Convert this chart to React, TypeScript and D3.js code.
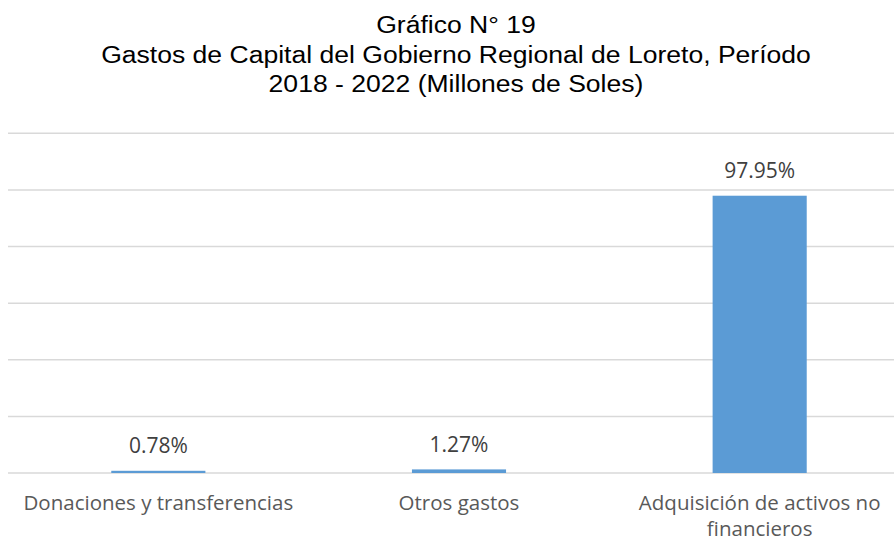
import React from "react";
import * as d3 from "d3";

const categories = ["Donaciones y transferencias", "Otros gastos", "Adquisición de activos no financieros"];
const categoryLines = [["Donaciones y transferencias"], ["Otros gastos"], ["Adquisición de activos no", "financieros"]];
const values = [0.0078, 0.0127, 0.9795];
const valueLabels = ["0.78%", "1.27%", "97.95%"];
const yTicks = [0, 0.2, 0.4, 0.6, 0.8, 1.0, 1.2];
const titleLines = [
  "Gráfico N° 19",
  "Gastos de Capital del Gobierno Regional de Loreto, Período",
  "2018 - 2022 (Millones de Soles)",
];
const titleBaselines = [33.3, 63.3, 91.7];

const W = 894;
const H = 541;

export default function App() {
  const x = d3.scaleBand<string>().domain(categories).range([8, 910]).paddingInner(0.687).paddingOuter(0.3435);
  const y = d3.scaleLinear().domain([0, 1.2]).range([473, 133.3]);
  const labelFont = "'Open Sans', sans-serif";
  return (
    <svg width={W} height={H} style={{ position: "absolute", left: 0, top: 0, background: "#fff" }}>
      <rect x={0} y={0} width={W} height={H} fill="#fff" />
      {titleLines.map((t, i) => (
        <text
          key={i}
          transform={`translate(456, ${titleBaselines[i]}) scale(1.13, 1)`}
          x={0}
          y={0}
          textAnchor="middle"
          fontFamily="'Liberation Sans', Arial, sans-serif"
          fontSize={23.5}
          fill="#000"
        >
          {t}
        </text>
      ))}
      {yTicks.map((t) => (
        <line key={t} x1={8} x2={W} y1={y(t)} y2={y(t)} stroke="#d9d9d9" strokeWidth={1.5} />
      ))}
      {categories.map((c, i) => (
        <rect key={c} x={x(c)} y={y(values[i])} width={x.bandwidth()} height={y(0) - y(values[i])} fill="#5b9bd5" />
      ))}
      {categories.map((c, i) => (
        <text key={c} x={(x(c) as number) + x.bandwidth() / 2} y={y(values[i]) - 17.5} textAnchor="middle" fontFamily={labelFont} fontSize={21} fill="#404040">
          {valueLabels[i]}
        </text>
      ))}
      {categories.map((c, i) => (
        <text key={c} textAnchor="middle" fontFamily={labelFont} fontSize={20.5} fill="#595959">
          {categoryLines[i].map((l, j) => (
            <tspan key={j} x={(x(c) as number) + x.bandwidth() / 2} y={510 + j * 25.5}>
              {l}
            </tspan>
          ))}
        </text>
      ))}
    </svg>
  );
}
